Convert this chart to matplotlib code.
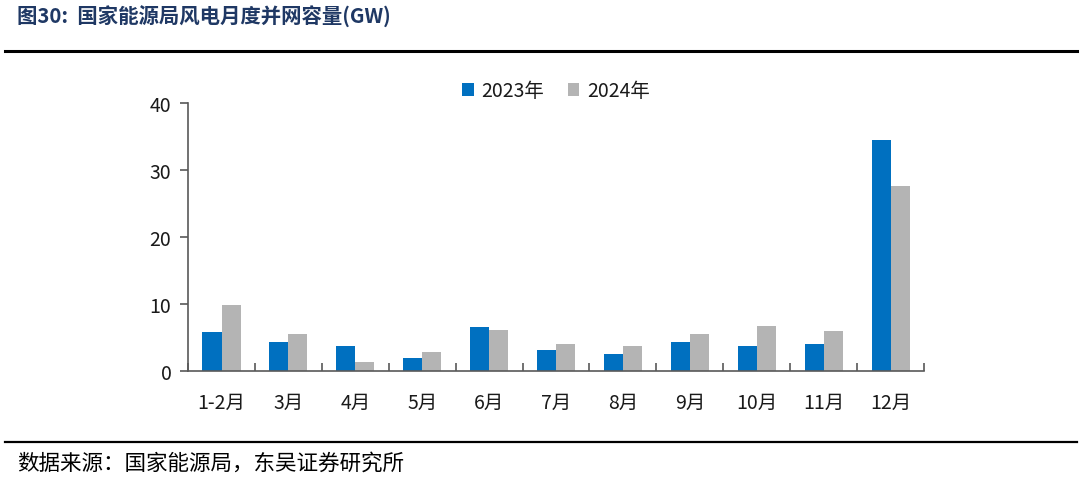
import numpy as np
import matplotlib
matplotlib.use("Agg")
import matplotlib.pyplot as plt
from matplotlib.lines import Line2D

plt.rcParams['font.family'] = ['Noto Sans CJK SC', 'DejaVu Sans']

# 月份与两年的并网容量 (GW)
months = ["1-2月", "3月", "4月", "5月", "6月", "7月", "8月", "9月", "10月", "11月", "12月"]
cap_2023 = [5.8, 4.4, 3.7, 2.0, 6.5, 3.2, 2.5, 4.4, 3.7, 4.0, 34.5]
cap_2024 = [9.8, 5.5, 1.3, 2.8, 6.1, 4.0, 3.7, 5.5, 6.7, 5.9, 27.6]
series_names = ["2023年", "2024年"]

fig = plt.figure(figsize=(10.82, 4.89), dpi=100)
ax = fig.add_axes([0.1738, 0.2393, 0.6802, 0.548])

x = np.arange(len(months))
w = 0.285
ax.bar(x - w / 2, cap_2023, width=w, color="#0070C0", label=series_names[0])
ax.bar(x + w / 2, cap_2024, width=w, color="#B4B4B4", label=series_names[1])

ax.set_xlim(-0.5, len(months) - 0.5)
ax.set_ylim(0, 40)
ax.set_yticks([0, 10, 20, 30, 40])
ax.set_xticks(x)
ax.set_xticklabels(months)
ax.tick_params(axis='x', length=0, labelsize=14, pad=15, labelcolor="#1a1a1a")
ax.tick_params(axis='y', length=6, width=1.2, color="#595959", labelsize=14, pad=6,
               labelcolor="#1a1a1a")
# 类别分隔刻度（向内）
ax.set_xticks(np.arange(-0.5, len(months), 1.0), minor=True)
ax.tick_params(axis='x', which='minor', direction='in', length=6, width=1.2, color="#595959")

for s in ["top", "right"]:
    ax.spines[s].set_visible(False)
for s in ["left", "bottom"]:
    ax.spines[s].set_color("#595959")
    ax.spines[s].set_linewidth(1.2)

leg = ax.legend(loc="center", bbox_to_anchor=(0.5, 1.045), ncol=2, frameon=False,
                fontsize=14, handlelength=0.6, handleheight=0.6, columnspacing=1.2,
                handletextpad=0.4)
for t in leg.get_texts():
    t.set_color("#1a1a1a")

# 标题和来源
fig.text(0.016, 0.965, "图30:  国家能源局风电月度并网容量(GW)", fontsize=14.7,
         fontweight="bold", color="#1F3864", va="center", ha="left")
fig.add_artist(Line2D([0.005, 0.995], [0.893, 0.893], color="black", lw=2.2,
                      transform=fig.transFigure))
fig.add_artist(Line2D([0.005, 0.995], [0.094, 0.094], color="black", lw=1.6,
                      transform=fig.transFigure))
fig.text(0.016, 0.052, "数据来源：国家能源局，东吴证券研究所", fontsize=15.5,
         color="black", va="center", ha="left")

fig.savefig("out.png", dpi=100)
